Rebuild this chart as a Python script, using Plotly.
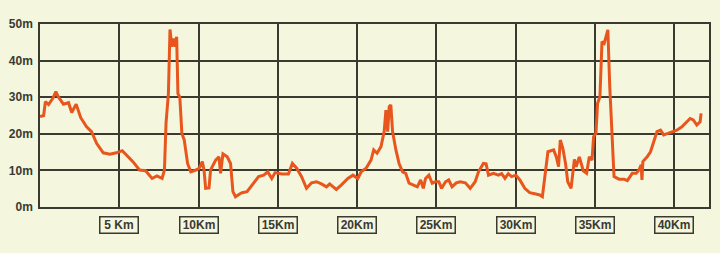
import plotly.graph_objects as go

km = [0.0, 0.23, 0.34, 0.54, 0.81, 1.00, 1.17, 1.48, 1.80, 2.00, 2.28, 2.57, 2.94, 3.25, 3.57, 3.99,
      4.41, 4.82, 5.19, 5.55, 5.86, 6.28, 6.66, 7.07, 7.37, 7.70, 7.85, 7.95, 8.10, 8.20, 8.32, 8.43,
      8.54, 8.62, 8.70, 8.82, 8.95, 9.10, 9.31, 9.51, 9.79, 10.04, 10.24, 10.35, 10.45, 10.66, 10.76,
      11.08, 11.29, 11.39, 11.54, 11.81, 12.02, 12.17, 12.33, 12.64, 12.75, 13.06, 13.37, 13.79, 14.11,
      14.37, 14.62, 14.83, 15.25, 15.67, 15.92, 16.19, 16.50, 16.81, 17.13, 17.44, 17.75, 18.07, 18.27,
      18.69, 19.00, 19.42, 19.74, 20.05, 20.26, 20.57, 20.88, 21.05, 21.26, 21.51, 21.71, 21.82, 21.93,
      22.03, 22.13, 22.24, 22.45, 22.65, 22.87, 23.07, 23.28, 23.59, 23.80, 24.01, 24.18, 24.32, 24.53,
      24.74, 24.95, 25.16, 25.33, 25.58, 25.78, 25.99, 26.26, 26.51, 26.83, 27.14, 27.45, 27.66, 27.97,
      28.14, 28.29, 28.60, 28.91, 29.12, 29.33, 29.54, 29.75, 30.02, 30.27, 30.58, 30.89, 31.21, 31.52,
      31.69, 31.83, 32.04, 32.40, 32.57, 32.71, 32.82, 32.98, 33.15, 33.29, 33.50, 33.71, 33.82, 34.02,
      34.17, 34.27, 34.48, 34.65, 34.82, 34.92, 35.07, 35.17, 35.32, 35.45, 35.59, 35.69, 35.82, 35.94,
      36.07, 36.21, 36.53, 36.84, 37.05, 37.36, 37.61, 37.78, 37.92, 37.97, 38.03, 38.30, 38.51, 38.72,
      38.92, 39.14, 39.34, 39.61, 39.86, 40.17, 40.49, 40.80, 41.01, 41.21, 41.43, 41.64, 41.70]

elevation = [24.7, 25.0, 28.8, 28.0, 29.7, 31.5, 30.0, 28.1, 28.5, 25.8, 28.1, 24.4, 21.9, 20.6, 17.4, 14.8,
             14.4, 14.8, 15.4, 13.9, 12.4, 10.1, 9.9, 7.8, 8.5, 7.8, 10.1, 22.9, 31.0, 48.5, 43.8, 46.0,
             43.8, 46.5, 31.0, 30.0, 20.1, 18.3, 11.9, 9.6, 10.0, 10.6, 12.4, 10.0, 5.1, 5.2, 10.1,
             12.8, 13.7, 9.2, 14.5, 13.7, 11.9, 4.2, 2.8, 3.7, 3.9, 4.2, 6.0, 8.3, 8.7,
             9.6, 7.8, 9.4, 9.0, 9.0, 11.9, 10.6, 8.3, 5.1, 6.6, 6.9, 6.3, 5.5, 6.3,
             4.8, 6.0, 7.8, 8.7, 7.8, 9.6, 10.6, 12.8, 15.6, 14.7, 16.5, 20.6, 26.5, 20.6,
             27.4, 27.9, 20.6, 15.6, 11.9, 9.6, 9.2, 6.5, 6.0, 5.5, 7.4, 5.1, 7.8, 8.7,
             6.5, 6.9, 6.9, 5.1, 6.9, 7.4, 5.5, 6.6, 6.9, 6.6, 5.1, 6.9, 9.6, 11.9,
             11.8, 8.7, 9.2, 8.7, 9.1, 7.8, 9.1, 8.3, 8.7, 7.4, 5.1, 3.9, 3.6, 3.3,
             2.8, 7.4, 15.1, 15.6, 13.7, 11.0, 18.3, 16.0, 11.9, 6.9, 5.1, 13.0, 11.0, 13.7,
             11.5, 9.9, 9.2, 13.7, 12.8, 19.2, 20.1, 28.3, 30.1, 45.2, 44.7, 46.5, 48.4, 32.9,
             20.1, 8.3, 7.6, 7.6, 7.2, 9.2, 9.2, 10.1, 11.5, 7.4, 12.4, 13.7, 15.1, 17.8,
             20.6, 21.0, 19.7, 20.1, 20.6, 21.0, 21.9, 23.3, 24.2, 23.8, 22.4, 23.3, 25.6]

x_ticks = [5, 10, 15, 20, 25, 30, 35, 40]
x_tick_labels = ["5 Km", "10Km", "15Km", "20Km", "25Km", "30Km", "35Km", "40Km"]
y_ticks = [0, 10, 20, 30, 40, 50]
y_tick_labels = ["0m", "10m", "20m", "30m", "40m", "50m"]

BG = "#f4f6dd"
GRID = "#3b3a30"
LINE = "#e8561e"
TXT = "#3a3a34"

fig = go.Figure()
fig.add_trace(go.Scatter(x=km, y=elevation, mode="lines",
                         line=dict(color=LINE, width=3), hoverinfo="skip"))

fig.update_layout(
    width=720, height=253,
    paper_bgcolor=BG, plot_bgcolor=BG,
    margin=dict(l=37, r=9, t=24, b=46),
    showlegend=False,
    font=dict(family="Liberation Sans, Arial, sans-serif", size=12, color=TXT),
)
fig.update_xaxes(range=[0, 42.2], tickvals=x_ticks, showticklabels=False,
                 showgrid=True, gridcolor=GRID, gridwidth=1.5,
                 showline=True, linecolor=GRID, linewidth=1.5, mirror=True,
                 zeroline=False)
fig.update_yaxes(range=[0, 50], tickvals=y_ticks,
                 ticktext=["<b>%s</b>" % t for t in y_tick_labels],
                 showgrid=True, gridcolor=GRID, gridwidth=1.5,
                 showline=True, linecolor=GRID, linewidth=1.5, mirror=True,
                 zeroline=False, ticks="", ticklabelstandoff=3)

for v, lab in zip(x_ticks, x_tick_labels):
    fig.add_annotation(x=v, xref="x", y=-0.098, yref="paper", yanchor="middle",
                       text="<b>%s</b>" % lab, showarrow=False,
                       font=dict(size=12, color=TXT),
                       width=35, height=13, bordercolor=GRID, borderwidth=1.5,
                       borderpad=1, bgcolor=BG)

fig.write_html("out.html")
